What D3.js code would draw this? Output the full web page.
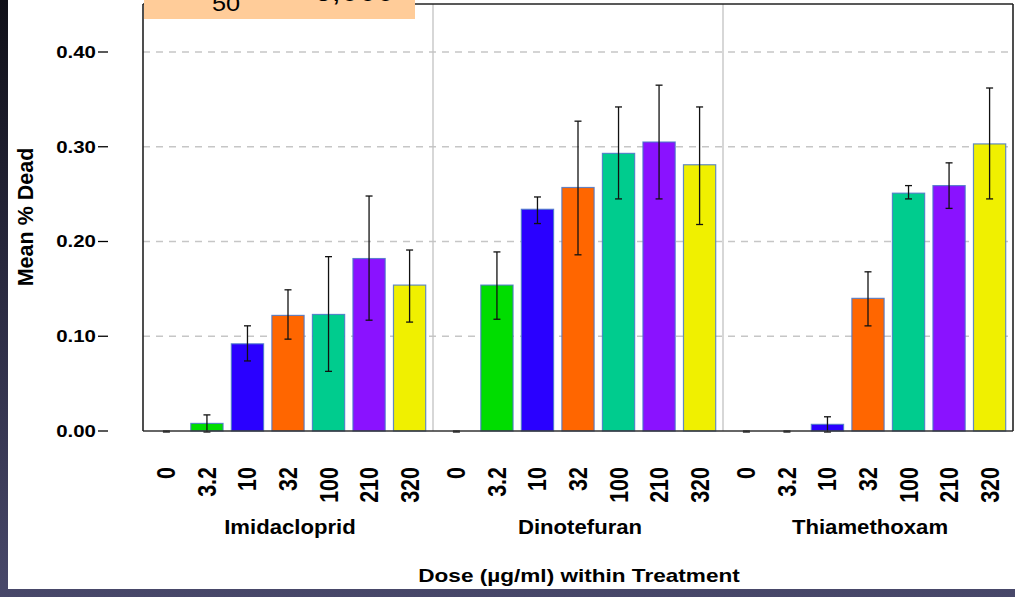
<!DOCTYPE html>
<html>
<head>
<meta charset="utf-8">
<script src="https://cdn.jsdelivr.net/npm/d3@7"></script>
<style>
  html, body { margin: 0; padding: 0; background: #fff; }
  svg { display: block; }
  text { font-family: "Liberation Sans", Arial, Helvetica, sans-serif; fill: #000; }
</style>
</head>
<body>
<svg id="chart" width="1015" height="597"></svg>
<script>
// Dose levels (µg/ml) and treatments
const doses = ["0", "3.2", "10", "32", "100", "210", "320"];
const treatments = ["Imidacloprid", "Dinotefuran", "Thiamethoxam"];
const doseColors = ["#ff2020", "#00dd00", "#2a00ff", "#ff6600", "#00cc8e", "#8a12ff", "#f0f000"];
const yTicks = [0, 0.10, 0.20, 0.30, 0.40];

// Mean proportion dead with lower / upper error limits, per dose
const imidMean = [0, 0.008, 0.092, 0.122, 0.123, 0.182, 0.154];
const imidLow  = [0, 0,     0.075, 0.098, 0.064, 0.118, 0.116];
const imidHigh = [0, 0.017, 0.111, 0.149, 0.184, 0.248, 0.191];

const dinoMean = [0, 0.154, 0.234, 0.257, 0.293, 0.305, 0.281];
const dinoLow  = [0, 0.119, 0.220, 0.187, 0.246, 0.246, 0.219];
const dinoHigh = [0, 0.189, 0.247, 0.327, 0.342, 0.365, 0.342];

const thiaMean = [0, 0,     0.007, 0.140, 0.251, 0.259, 0.303];
const thiaLow  = [0, 0,     0,     0.112, 0.246, 0.236, 0.246];
const thiaHigh = [0, 0,     0.015, 0.168, 0.259, 0.283, 0.362];

const seriesMean = [imidMean, dinoMean, thiaMean];
const seriesLow = [imidLow, dinoLow, thiaLow];
const seriesHigh = [imidHigh, dinoHigh, thiaHigh];

const rows = [];
treatments.forEach((t, ti) => {
  doses.forEach((d, di) => {
    rows.push({ treatment: t, dose: d, di,
      mean: seriesMean[ti][di], low: seriesLow[ti][di], high: seriesHigh[ti][di] });
  });
});

const svg = d3.select("#chart");
const W = 1015, H = 597;
const plot = { left: 143, right: 1013, top: 4, bottom: 431 };

// slide background behind the white chart area
const defs = svg.append("defs");
const grad = defs.append("linearGradient").attr("id", "bgGrad")
  .attr("x1", 0).attr("y1", 0).attr("x2", 0).attr("y2", 1);
grad.append("stop").attr("offset", "0%").attr("stop-color", "#101018");
grad.append("stop").attr("offset", "55%").attr("stop-color", "#2e2e46");
grad.append("stop").attr("offset", "100%").attr("stop-color", "#48486a");
svg.append("rect").attr("width", W).attr("height", H).attr("fill", "url(#bgGrad)");
svg.append("rect").attr("x", 8).attr("y", 0).attr("width", W - 8).attr("height", 589).attr("fill", "#fff");

const y = d3.scaleLinear().domain([0, 0.40]).range([plot.bottom, 52]);
const x0 = d3.scaleBand().domain(treatments).range([plot.left, plot.right]).padding(0);
const x1 = d3.scaleBand().domain(doses).range([0, x0.bandwidth()])
  .paddingInner(0.205).paddingOuter(0.18);

// dashed horizontal gridlines
svg.append("g").selectAll("line").data(yTicks.filter(v => v > 0)).join("line")
  .attr("x1", plot.left).attr("x2", plot.right)
  .attr("y1", d => y(d)).attr("y2", d => y(d))
  .attr("stroke", "#c6c6c6").attr("stroke-width", 1.3).attr("stroke-dasharray", "7,6");

// panel separators
svg.append("g").selectAll("line").data(treatments.slice(1)).join("line")
  .attr("x1", d => x0(d)).attr("x2", d => x0(d))
  .attr("y1", plot.top).attr("y2", plot.bottom)
  .attr("stroke", "#c2c2c2").attr("stroke-width", 1.3);

// bars
const barX = d => x0(d.treatment) + x1(d.dose);
svg.append("g").selectAll("rect").data(rows.filter(d => d.mean > 0)).join("rect")
  .attr("x", barX).attr("width", x1.bandwidth())
  .attr("y", d => y(d.mean)).attr("height", d => y(0) - y(d.mean))
  .attr("fill", d => doseColors[d.di])
  .attr("stroke", "#4a78c8").attr("stroke-width", 1.2).attr("stroke-opacity", 0.85);

// error bars
const eb = svg.append("g").attr("stroke", "#111").attr("stroke-width", 1.3);
const cx = d => barX(d) + x1.bandwidth() / 2;
eb.selectAll("line.v").data(rows).join("line").attr("class", "v")
  .attr("x1", cx).attr("x2", cx).attr("y1", d => y(d.low) + 1).attr("y2", d => y(d.high));
eb.selectAll("line.t").data(rows).join("line").attr("class", "t")
  .attr("x1", d => cx(d) - 3.5).attr("x2", d => cx(d) + 3.5)
  .attr("y1", d => y(d.high)).attr("y2", d => y(d.high));
eb.selectAll("line.b").data(rows).join("line").attr("class", "b")
  .attr("x1", d => cx(d) - 3.5).attr("x2", d => cx(d) + 3.5)
  .attr("y1", d => y(d.low) + 1).attr("y2", d => y(d.low) + 1);

// frame: axis line, baseline, top and right borders
const frame = svg.append("g").attr("stroke", "#222").attr("stroke-width", 1.6);
frame.append("line").attr("x1", plot.left).attr("x2", plot.right).attr("y1", plot.bottom).attr("y2", plot.bottom).attr("stroke", "#333");
frame.append("line").attr("x1", plot.left).attr("x2", plot.right).attr("y1", plot.top).attr("y2", plot.top);
frame.append("line").attr("x1", plot.left).attr("x2", plot.left).attr("y1", plot.top).attr("y2", plot.bottom);
frame.append("line").attr("x1", plot.right).attr("x2", plot.right).attr("y1", plot.top).attr("y2", plot.bottom);

// y axis ticks and labels
const yg = svg.append("g");
yg.selectAll("line").data(yTicks).join("line")
  .attr("x1", 98).attr("x2", 108).attr("y1", d => y(d)).attr("y2", d => y(d))
  .attr("stroke", "#000").attr("stroke-width", 1.3);
yg.selectAll("text").data(yTicks).join("text")
  .attr("transform", d => `translate(96,${y(d)}) scale(1.24,1)`)
  .attr("dy", "0.36em").attr("text-anchor", "end")
  .attr("font-size", 16.5).attr("font-weight", "bold")
  .text(d3.format(".2f"));

// dose tick labels (rotated)
svg.append("g").selectAll("text").data(rows).join("text")
  .attr("transform", d => `translate(${cx(d)},467) scale(1.16,1) rotate(-90)`)
  .attr("dy", "0.36em").attr("text-anchor", "end")
  .attr("font-size", 21.5).attr("font-weight", "bold")
  .text(d => d.dose);

// treatment labels
svg.append("g").selectAll("text").data(treatments).join("text")
  .attr("transform", d => `translate(${x0(d) + x0.bandwidth() / 2 + 2},534) scale(1.08,1)`)
  .attr("text-anchor", "middle").attr("font-size", 20.5).attr("font-weight", "bold")
  .text(d => d);

// axis titles
svg.append("text")
  .attr("transform", `translate(579,582) scale(1.24,1)`)
  .attr("text-anchor", "middle").attr("font-size", 18.2).attr("font-weight", "bold")
  .text("Dose (µg/ml) within Treatment");
svg.append("text")
  .attr("transform", `translate(33,217) rotate(-90)`)
  .attr("text-anchor", "middle").attr("font-size", 21.5).attr("font-weight", "bold")
  .text("Mean % Dead");

// callout box at the top of the plot
const note = svg.append("g");
note.append("rect").attr("x", 144).attr("y", 0).attr("width", 271).attr("height", 19).attr("fill", "#ffcc99");
const noteText = note.append("text").attr("transform", "translate(164,0) scale(1.15,1)").attr("font-size", 28);
noteText.append("tspan").attr("dy", 0).text("LC");
noteText.append("tspan").attr("font-size", 22).attr("dx", 6).attr("dy", 11).text("50");
noteText.append("tspan").attr("dx", 40).attr("dy", -10).text("= 6,000");
</script>
</body>
</html>
